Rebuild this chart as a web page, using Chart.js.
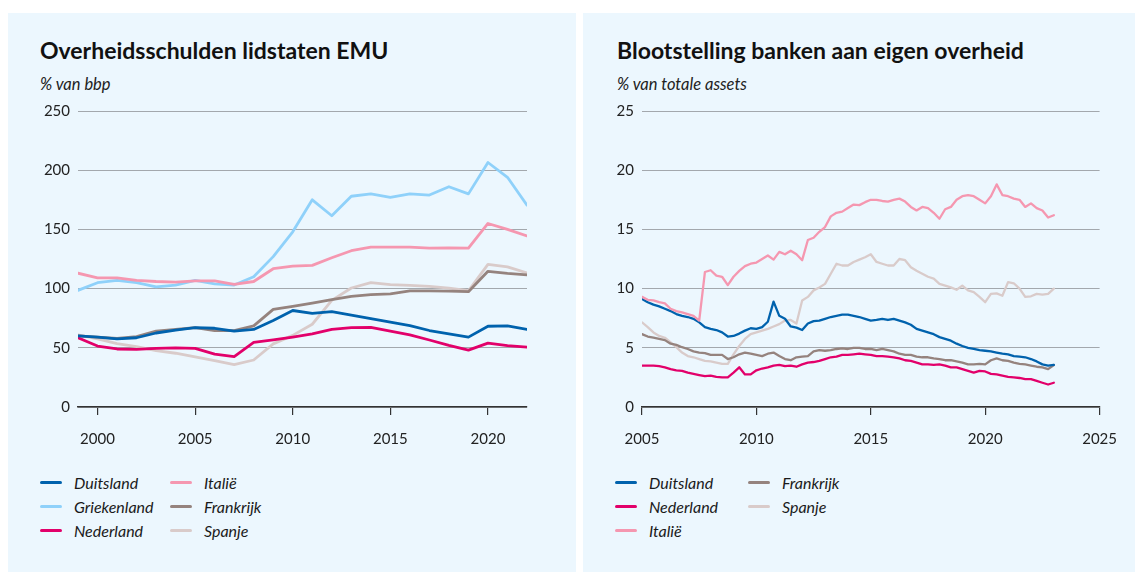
<!DOCTYPE html>
<html>
<head>
<meta charset="utf-8">
<script src="https://cdn.jsdelivr.net/npm/chart.js@4"></script>
<style>
  body { margin: 0; width: 1135px; height: 572px; background: #fff; position: relative; overflow: hidden; font-family: Lato, "Noto Sans", sans-serif; }
  .panel { position: absolute; top: 13px; height: 559px; background: #ecf7fe; }
  .title { position: absolute; font-weight: bold; font-size: 23px; line-height: 26px; color: #111; }
  .sub { position: absolute; font-style: italic; font-size: 16.5px; line-height: 20px; color: #222; }
  .box { position: absolute; }
  .legend { position: absolute; display: grid; grid-auto-flow: column; grid-template-rows: repeat(3, 24px); }
  .item { display: flex; align-items: center; font-style: italic; font-size: 16px; color: #1a1a1a; }
  .item span { display: inline-block; width: 22px; height: 3px; border-radius: 2px; margin-right: 12px; }
</style>
</head>
<body>
<div class="panel" style="left:8px;width:568px"></div>
<div class="panel" style="left:583px;width:552px"></div>

<div class="title" style="left:40px;top:37px">Overheidsschulden lidstaten EMU</div>
<div class="sub" style="left:40px;top:74px">% van bbp</div>
<div class="box" style="left:30px;top:94px"><canvas id="debt" width="510" height="361"></canvas></div>
<div class="legend" id="legDebt" style="left:40px;top:470px;grid-template-columns:130px 130px"></div>

<div class="title" style="left:617px;top:37px">Blootstelling banken aan eigen overheid</div>
<div class="sub" style="left:617px;top:74px">% van totale assets</div>
<div class="box" style="left:590px;top:94px"><canvas id="banks" width="542" height="361"></canvas></div>
<div class="legend" id="legBanks" style="left:615px;top:470px;grid-template-columns:133px 133px"></div>

<script>
// linker grafiek: overheidsschuld, % bbp
const years = [1999, 2000, 2001, 2002, 2003, 2004, 2005, 2006, 2007, 2008, 2009, 2010,
  2011, 2012, 2013, 2014, 2015, 2016, 2017, 2018, 2019, 2020, 2021, 2022];
const debtDuitsland = [60, 59, 57.5, 58.5, 62.5, 65, 67, 66.5, 64, 65.5, 73, 81.5, 79, 80.5, 77.5, 74.6, 71.6, 68.8, 64.6, 61.8, 59, 68.2, 68.5, 65.6];
const debtGriekenland = [98.5, 105, 107, 105, 101.5, 103, 107, 104, 103, 110, 127, 148, 175, 161.5, 178, 180, 177, 180, 179, 186, 180, 206.5, 194, 170.5];
const debtNederland = [58.5, 51.5, 49, 48.7, 49.5, 50, 49.5, 44.7, 42.5, 54.5, 56.6, 59, 61.7, 65.6, 67, 67.3, 64, 61, 56.6, 52, 48, 54, 51.8, 50.5];
const debtItalie = [113, 109, 109, 107, 106, 105.5, 106.6, 106.6, 103.5, 106, 116.8, 119, 119.6, 126, 132, 135, 135, 135, 134.2, 134.4, 134.2, 155, 150, 144.5];
const debtFrankrijk = [60, 59, 58, 59.5, 64, 65.5, 67, 64.5, 64.5, 68.5, 82.5, 85, 87.8, 90.6, 93.4, 94.9, 95.6, 98, 98.1, 97.8, 97.4, 114.6, 112.9, 111.6];
const debtSpanje = [61, 57.5, 53.5, 51, 47.6, 45.4, 42.4, 39.1, 35.8, 39.7, 53.3, 60.5, 69.9, 90, 100.5, 105.1, 103.3, 102.7, 101.8, 100.4, 98.2, 120.4, 118.4, 113.2];
const debtXTicks = [2000, 2005, 2010, 2015, 2020];

// rechter grafiek: per kwartaal, 2005 t/m 2022
const quarters = Array.from({length: 73}, (_, i) => 2005 + i / 4);
const bankDuitsland = [9.13, 8.85, 8.65, 8.5, 8.3, 8.1, 7.85, 7.7, 7.6,
  7.45, 7.15, 6.75, 6.6, 6.5, 6.3, 5.95, 6.0,
  6.2, 6.45, 6.65, 6.6, 6.75, 7.2, 8.9, 7.7,
  7.45, 6.8, 6.7, 6.5, 7.05, 7.25, 7.3, 7.45,
  7.6, 7.7, 7.8, 7.8, 7.7, 7.6, 7.45, 7.3,
  7.35, 7.45, 7.35, 7.45, 7.3, 7.15, 6.95, 6.6,
  6.45, 6.3, 6.15, 5.9, 5.75, 5.6, 5.35, 5.15,
  5.0, 4.9, 4.8, 4.75, 4.7, 4.6, 4.5, 4.45,
  4.3, 4.25, 4.2, 4.05, 3.85, 3.6, 3.5, 3.55];
const bankNederland = [3.5, 3.5, 3.5, 3.45, 3.35, 3.2, 3.1, 3.05, 2.9,
  2.8, 2.7, 2.6, 2.65, 2.55, 2.5, 2.5, 2.9,
  3.35, 2.75, 2.75, 3.1, 3.25, 3.35, 3.5, 3.55,
  3.45, 3.5, 3.4, 3.6, 3.75, 3.8, 3.9, 4.05,
  4.2, 4.25, 4.4, 4.4, 4.45, 4.5, 4.45, 4.4,
  4.3, 4.3, 4.25, 4.2, 4.1, 3.95, 3.9, 3.75,
  3.6, 3.6, 3.55, 3.6, 3.5, 3.35, 3.35, 3.2,
  3.05, 2.9, 3.05, 3.0, 2.8, 2.75, 2.65, 2.55,
  2.5, 2.45, 2.35, 2.35, 2.2, 2.05, 1.9, 2.05];
const bankItalie = [9.3, 9.05, 9.0, 8.85, 8.75, 8.3, 8.1, 8.0, 7.85,
  7.7, 7.3, 11.4, 11.55, 11.1, 11.0, 10.3, 11.0,
  11.5, 11.9, 12.1, 12.2, 12.5, 12.8, 12.45, 13.1,
  12.9, 13.2, 12.9, 12.4, 14.1, 14.3, 14.8, 15.2,
  16.1, 16.4, 16.5, 16.8, 17.1, 17.05, 17.3, 17.5,
  17.5, 17.4, 17.35, 17.5, 17.6, 17.35, 16.9, 16.6,
  16.9, 16.8, 16.4, 15.9, 16.7, 16.9, 17.5, 17.8,
  17.9, 17.8, 17.5, 17.2, 17.8, 18.8, 17.9, 17.8,
  17.6, 17.5, 16.9, 17.2, 16.8, 16.6, 16.0, 16.2];
const bankFrankrijk = [6.15, 5.95, 5.85, 5.75, 5.65, 5.35, 5.25, 5.05, 4.9,
  4.7, 4.6, 4.55, 4.4, 4.4, 4.4, 4.05, 4.2,
  4.45, 4.6, 4.5, 4.4, 4.3, 4.5, 4.6, 4.3,
  4.05, 3.95, 4.2, 4.25, 4.3, 4.7, 4.8, 4.75,
  4.8, 4.9, 4.95, 4.9, 5.0, 5.0, 4.9, 4.9,
  4.8, 4.9, 4.8, 4.7, 4.5, 4.4, 4.4, 4.25,
  4.2, 4.2, 4.1, 4.05, 3.95, 3.95, 3.85, 3.75,
  3.6, 3.6, 3.65, 3.6, 3.95, 4.1, 3.95, 3.9,
  3.75, 3.65, 3.6, 3.5, 3.4, 3.35, 3.2, 3.55];
const bankSpanje = [7.15, 6.75, 6.3, 6.0, 5.85, 5.45, 5.05, 4.6, 4.3,
  4.2, 4.05, 3.9, 3.85, 3.75, 3.65, 3.65, 4.45,
  5.15, 5.75, 6.15, 6.3, 6.45, 6.6, 6.8, 7.0,
  7.3, 7.35, 7.05, 9.0, 9.3, 9.85, 10.1, 10.4,
  11.25, 12.1, 11.95, 11.95, 12.25, 12.45, 12.65, 12.9,
  12.25, 12.1, 11.95, 11.95, 12.5, 12.4, 11.8, 11.5,
  11.25, 11.0, 10.85, 10.4, 10.25, 10.1, 9.9, 10.25,
  9.85, 9.7, 9.3, 8.85, 9.55, 9.6, 9.4, 10.55,
  10.45, 10.0, 9.3, 9.35, 9.55, 9.5, 9.55, 10.0];
const bankXTicks = [2005, 2010, 2015, 2020, 2025];

const colors = {
  Duitsland: '#0062ad',
  Griekenland: '#8fd1fa',
  Nederland: '#e2006a',
  'Italië': '#f597b0',
  Frankrijk: '#95837e',
  Spanje: '#d9cbca'
};

Chart.defaults.font.family = 'Lato, "Noto Sans", sans-serif';
Chart.defaults.font.size = 15;
Chart.defaults.color = '#222';

function series(label, xs, ys, width) {
  return {
    label: label,
    data: ys.map((v, i) => ({x: xs[i], y: v})),
    borderColor: colors[label],
    borderWidth: width,
    pointRadius: 0,
    tension: 0,
    borderJoinStyle: 'round',
    borderCapStyle: 'round'
  };
}

function scales(xMin, xMax, xTicks, yMax, yStep, yWidth) {
  return {
    x: {
      type: 'linear', min: xMin, max: xMax,
      afterBuildTicks: s => { s.ticks = xTicks.map(v => ({value: v})); },
      afterFit: s => { s.height = 48; },
      ticks: { padding: 15, callback: v => String(v), maxRotation: 0 },
      grid: { drawOnChartArea: false, drawTicks: true, tickLength: 8, color: '#333', lineWidth: 1.2 },
      border: { display: true, color: '#333', width: 1.5 }
    },
    y: {
      min: 0, max: yMax,
      afterFit: s => { s.width = yWidth; },
      ticks: { stepSize: yStep, padding: 8 },
      grid: { color: '#a3a8ad', lineWidth: 1, drawTicks: false },
      border: { display: false }
    }
  };
}

new Chart(document.getElementById('debt'), {
  type: 'line',
  data: {
    datasets: [
      series('Duitsland', years, debtDuitsland, 2.8),
      series('Nederland', years, debtNederland, 2.8),
      series('Frankrijk', years, debtFrankrijk, 2.8),
      series('Spanje', years, debtSpanje, 2.8),
      series('Italië', years, debtItalie, 2.8),
      series('Griekenland', years, debtGriekenland, 2.8)
    ]
  },
  options: {
    responsive: false,
    animation: false,
    layout: { padding: { top: 0, right: 13, left: 0, bottom: 0 } },
    plugins: { legend: { display: false }, tooltip: { enabled: false } },
    scales: scales(1999, 2022, debtXTicks, 250, 50, 48)
  }
});

new Chart(document.getElementById('banks'), {
  type: 'line',
  data: {
    datasets: [
      series('Italië', quarters, bankItalie, 2.3),
      series('Duitsland', quarters, bankDuitsland, 2.3),
      series('Nederland', quarters, bankNederland, 2.3),
      series('Frankrijk', quarters, bankFrankrijk, 2.3),
      series('Spanje', quarters, bankSpanje, 2.3)
    ]
  },
  options: {
    responsive: false,
    animation: false,
    layout: { padding: { top: 0, right: 0, left: 0, bottom: 0 } },
    plugins: { legend: { display: false }, tooltip: { enabled: false } },
    scales: scales(2005, 2025, bankXTicks, 25, 5, 52)
  }
});

function legend(id, names) {
  const el = document.getElementById(id);
  names.forEach(n => {
    const d = document.createElement('div');
    d.className = 'item';
    d.innerHTML = '<span style="background:' + colors[n] + '"></span>' + n;
    el.appendChild(d);
  });
}
legend('legDebt', ['Duitsland', 'Griekenland', 'Nederland', 'Italië', 'Frankrijk', 'Spanje']);
legend('legBanks', ['Duitsland', 'Nederland', 'Italië', 'Frankrijk', 'Spanje']);
</script>
</body>
</html>
